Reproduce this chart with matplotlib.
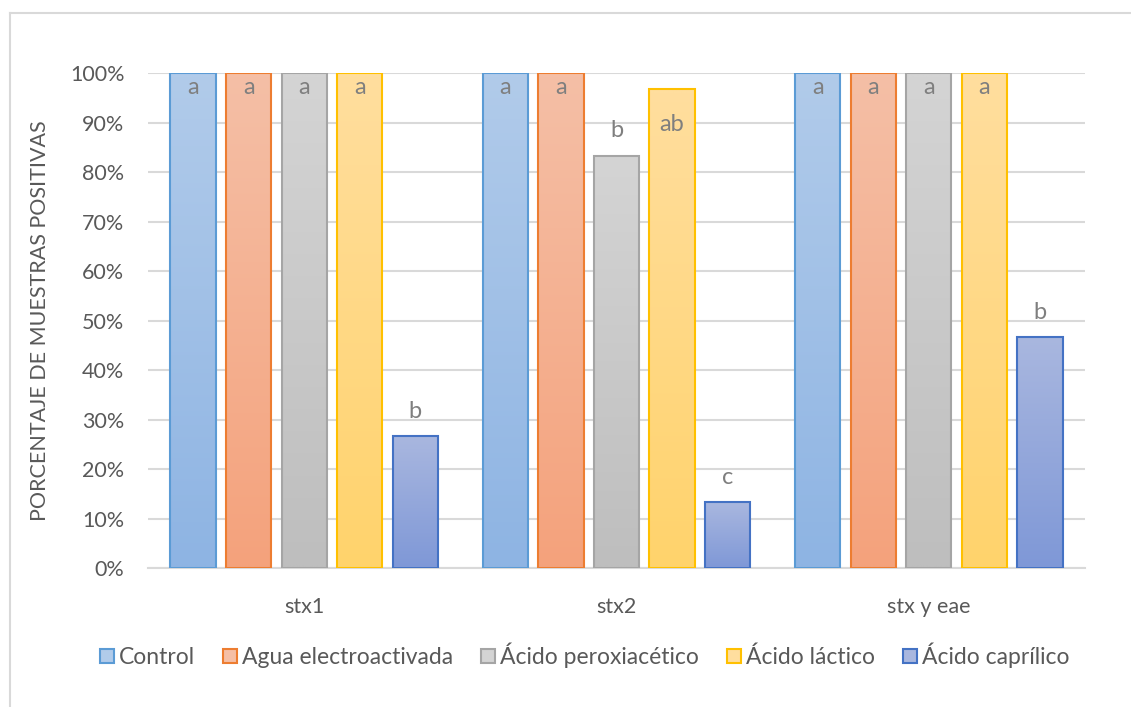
"""Porcentaje de muestras positivas por gen y tratamiento (estilo Excel)."""

import matplotlib

matplotlib.use("Agg")
import matplotlib.pyplot as plt  # noqa: E402
import numpy as np  # noqa: E402
from matplotlib.colors import to_rgb  # noqa: E402
from matplotlib.lines import Line2D  # noqa: E402
from matplotlib.patches import Patch  # noqa: E402

plt.rcParams["font.family"] = ["Lato", "DejaVu Sans"]

# datos
genes = ["stx1", "stx2", "stx y eae"]
tratamientos = ["Control", "Agua electroactivada", "Ácido peroxiacético",
                "Ácido láctico", "Ácido caprílico"]
control = [100, 100, 100]
agua = [100, 100, 100]
peroxiacetico = [100, 83.3, 100]
lactico = [100, 96.7, 100]
caprilico = [26.7, 13.3, 46.7]
letras_control = ["a", "a", "a"]
letras_agua = ["a", "a", "a"]
letras_peroxiacetico = ["a", "b", "a"]
letras_lactico = ["a", "ab", "a"]
letras_caprilico = ["b", "c", "b"]

series = [control, agua, peroxiacetico, lactico, caprilico]
letras = [letras_control, letras_agua, letras_peroxiacetico,
          letras_lactico, letras_caprilico]

# borde, color arriba, color abajo (relleno degradado tipo Excel)
bordes = ["#5B9BD5", "#ED7D31", "#A5A5A5", "#FFC000", "#4472C4"]
arriba = ["#B1CBEA", "#F5BFA6", "#D4D4D4", "#FFDE9E", "#A9B7DF"]
abajo = ["#8EB4E3", "#F4A27C", "#BEBEBE", "#FFD36C", "#7F98D7"]

GRIS = "#595959"
LINEA = "#D9D9D9"

fig = plt.figure(figsize=(11.31, 7.07), dpi=100)
ax = fig.add_axes([0.1309, 0.1966, 0.8284, 0.7001])

x = np.arange(len(genes))
ancho = 0.145
paso = 0.178

for i, (vals, lets) in enumerate(zip(series, letras)):
    pos = x + (i - 2) * paso
    barras = ax.bar(pos, vals, width=ancho, facecolor="none",
                    edgecolor=bordes[i], linewidth=1.5, zorder=3)
    c_top = np.array(to_rgb(arriba[i]))
    c_bot = np.array(to_rgb(abajo[i]))
    for b, v, letra in zip(barras, vals, lets):
        t = np.linspace(0, 1, 64)[:, None]
        grad = (c_top * (1 - t) + c_bot * t)[:, None, :]
        x0 = b.get_x()
        img = ax.imshow(grad, extent=[x0, x0 + ancho, 0, v], origin="upper",
                        aspect="auto", interpolation="bilinear", zorder=2)
        img.set_clip_path(b)
        if v >= 95:
            # etiqueta dentro del extremo de la barra
            y_txt = v - 3 if len(letra) == 1 else v - 7
        else:
            y_txt = v + 5
        ax.text(b.get_x() + ancho / 2, y_txt, letra, ha="center",
                va="center", fontsize=17, color="#7F7F7F", zorder=4)

ax.set_xlim(-0.5, len(genes) - 0.5)
ax.set_ylim(0, 100)
ax.set_yticks(np.arange(0, 101, 10))
ax.set_yticklabels([f"{v}%" for v in range(0, 101, 10)])
ax.set_xticks(x)
ax.set_xticklabels(genes)
ax.tick_params(axis="both", length=0, labelsize=15.5, labelcolor=GRIS)
ax.tick_params(axis="y", pad=17)
ax.tick_params(axis="x", pad=21)
ax.grid(axis="y", color=LINEA, linewidth=1.5, zorder=0)
ax.set_axisbelow(True)
for lado in ["top", "right", "left"]:
    ax.spines[lado].set_visible(False)
ax.spines["bottom"].set_color(LINEA)
ax.spines["bottom"].set_linewidth(1.5)
ax.set_ylabel("PORCENTAJE DE MUESTRAS POSITIVAS", fontsize=15.5, color=GRIS,
              labelpad=14)

# leyenda
handles = [Patch(facecolor=a, edgecolor=e, linewidth=1.5)
           for a, e in zip(arriba, bordes)]
fig.legend(handles, tratamientos, loc="center", bbox_to_anchor=(0.517, 0.073),
           ncol=5, frameon=False, fontsize=16.5, labelcolor=GRIS,
           handlelength=0.6, handleheight=0.6, handletextpad=0.2,
           columnspacing=1.25)

# marco del gráfico
fig.add_artist(Line2D([10 / 1131, 10 / 1131], [0, 1 - 13 / 707],
                      color=LINEA, linewidth=1.5))
fig.add_artist(Line2D([10 / 1131, 1], [1 - 13 / 707, 1 - 13 / 707],
                      color=LINEA, linewidth=1.5))

fig.savefig("out.png", dpi=100)
